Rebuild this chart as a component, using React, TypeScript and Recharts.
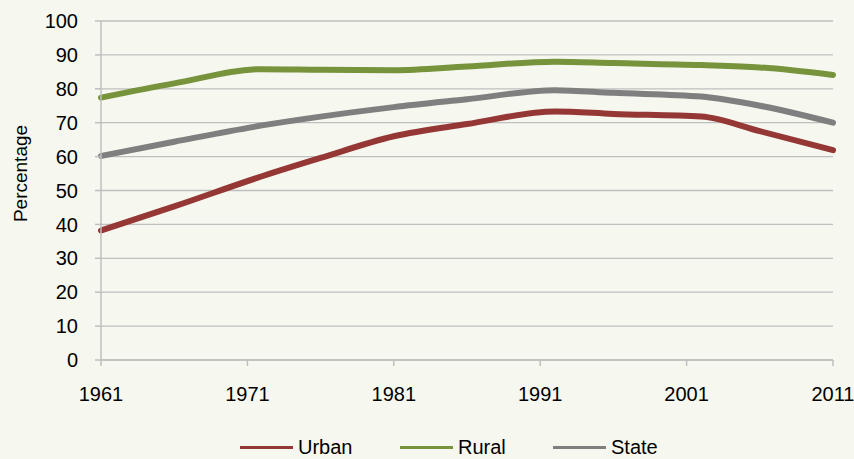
import { LineChart, Line, XAxis, YAxis, CartesianGrid } from 'recharts';

// census years sampled along the curves (axis labelled every decade)
const years = [1961, 1966, 1972, 1976, 1981, 1986, 1992, 1996, 2002, 2006, 2011];
const urban = [38.2, 45.3, 54.2, 59.6, 66.0, 69.6, 73.3, 72.6, 71.8, 67.5, 61.9];
const rural = [77.4, 81.6, 85.8, 85.6, 85.5, 86.6, 88.0, 87.6, 87.0, 86.3, 84.1];
const state = [60.2, 64.4, 69.2, 71.8, 74.6, 76.9, 79.6, 78.8, 77.7, 75.0, 70.0];

const xTicks = [1961, 1971, 1981, 1991, 2001, 2011];
const yTicks = [0, 10, 20, 30, 40, 50, 60, 70, 80, 90, 100];

const series = [
  { key: 'urban', name: 'Urban', color: '#953735' },
  { key: 'rural', name: 'Rural', color: '#77933C' },
  { key: 'state', name: 'State', color: '#7F7F7F' },
];

const chartData = years.map((year, i) => ({
  year,
  urban: urban[i],
  rural: rural[i],
  state: state[i],
}));

const font = '"Liberation Sans", Arial, sans-serif';
const legendLeft = [240, 400, 553];

export default function App() {
  return (
    <div
      style={{
        position: 'absolute',
        top: 0,
        left: 0,
        width: 854,
        height: 459,
        background: '#F6F7EF',
        fontFamily: font,
        overflow: 'hidden',
      }}
    >
      <LineChart
        width={854}
        height={459}
        data={chartData}
        margin={{ top: 21, right: 21, left: 0, bottom: 39 }}
      >
        <CartesianGrid vertical={false} stroke="#BFBFBF" strokeWidth={1.3} />
        <XAxis
          dataKey="year"
          type="number"
          domain={[1961, 2011]}
          ticks={xTicks}
          height={60}
          stroke="#BFBFBF"
          strokeWidth={1.5}
          tickSize={6}
          tickMargin={21}
          tick={{ fill: '#000', fontSize: 20, fontFamily: font }}
        />
        <YAxis
          domain={[0, 100]}
          ticks={yTicks}
          width={101}
          stroke="#BFBFBF"
          strokeWidth={1.5}
          tickSize={6}
          tickMargin={17}
          tick={{ fill: '#000', fontSize: 20, fontFamily: font }}
          label={{
            value: 'Percentage',
            angle: -90,
            position: 'center',
            dx: -30,
            dy: -17,
            style: { fontSize: 19, fill: '#000', fontFamily: font },
          }}
        />
        {series.map(s => (
          <Line
            key={s.key}
            type="monotone"
            dataKey={s.key}
            name={s.name}
            stroke={s.color}
            strokeWidth={6}
            strokeLinecap="round"
            dot={false}
            activeDot={false}
            isAnimationActive={false}
          />
        ))}
      </LineChart>
      {series.map((s, i) => (
        <div
          key={s.key}
          style={{
            position: 'absolute',
            top: 437,
            left: legendLeft[i],
            display: 'flex',
            alignItems: 'center',
            fontSize: 20,
            lineHeight: '21px',
            color: '#000',
          }}
        >
          <span style={{ display: 'inline-block', width: 53, height: 3, background: s.color, marginRight: 5 }} />
          <span>{s.name}</span>
        </div>
      ))}
    </div>
  );
}
